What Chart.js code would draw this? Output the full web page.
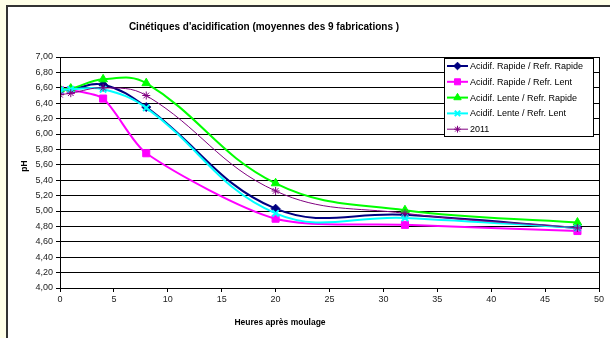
<!DOCTYPE html>
<html>
<head>
<meta charset="utf-8">
<script src="https://cdn.jsdelivr.net/npm/chart.js@4/dist/chart.umd.min.js"></script>
<style>
  html, body { margin: 0; padding: 0; background: #FFFFE8; }
  #wrap { position: relative; width: 610px; height: 338px; overflow: hidden; }
  #frame { position: absolute; left: 6px; top: 5px; width: 640px; height: 360px;
           background: #ffffff; border-left: 2px solid #333; border-top: 2px solid #333; }
  #c { position: absolute; left: 0; top: 0; }
</style>
</head>
<body>
<div id="wrap">
  <div id="frame"></div>
  <canvas id="c" width="610" height="338"></canvas>
</div>
<script>
// Hours after moulding at which pH was measured
const hours = [0, 1, 4, 8, 20, 32, 48];

// Mean pH per process (9 batches)
const rapideRapide = [6.57, 6.58, 6.64, 6.35, 5.03, 4.95, 4.78];
const rapideLent   = [6.57, 6.57, 6.46, 5.75, 4.90, 4.82, 4.74];
const lenteRapide  = [6.58, 6.59, 6.71, 6.66, 5.36, 5.01, 4.85];
const lenteLent    = [6.57, 6.58, 6.58, 6.34, 4.97, 4.91, 4.78];
const annee2011    = [6.51, 6.53, 6.60, 6.50, 5.26, 4.97, 4.78];

const seriesNames = [
  'Acidif. Rapide / Refr. Rapide',
  'Acidif. Rapide / Refr. Lent',
  'Acidif. Lente / Refr. Rapide',
  'Acidif. Lente / Refr. Lent',
  '2011'
];

const yTicks = { min: 4, max: 7, step: 0.2 };
const xTicks = { min: 0, max: 50, step: 5 };

function pts(values) {
  return hours.map((h, i) => ({ x: h, y: values[i] }));
}

const styles = [
  { color: '#000080', pointStyle: 'rectRot', radius: 4.5, width: 2, pbw: 1, tension: 0.4 },
  { color: '#FF00FF', pointStyle: 'rect', radius: 5, width: 2, pbw: 1, tension: 0.25 },
  { color: '#00FF00', pointStyle: 'triangle', radius: 5, width: 2, pbw: 1, tension: 0.4 },
  { color: '#00FFFF', pointStyle: 'crossRot', radius: 4.5, width: 2, pbw: 2, tension: 0.4 },
  { color: '#800080', pointStyle: 'star', radius: 4, width: 1, pbw: 1, tension: 0.4 }
];

const allValues = [rapideRapide, rapideLent, lenteRapide, lenteLent, annee2011];

const datasets = allValues.map((vals, i) => ({
  label: seriesNames[i],
  data: pts(vals),
  borderColor: styles[i].color,
  backgroundColor: styles[i].color,
  borderWidth: styles[i].width,
  pointStyle: styles[i].pointStyle,
  pointRadius: styles[i].radius,
  pointBorderWidth: styles[i].pbw,
  pointBackgroundColor: styles[i].color,
  pointBorderColor: styles[i].color,
  tension: styles[i].tension,
  order: allValues.length - i
}));

const FONT = '"Liberation Sans", Arial, sans-serif';

// Titles, plot frame and boxed legend with line + marker samples
const decorations = {
  id: 'decorations',
  afterDraw(chart) {
    const ctx = chart.ctx;
    const a = chart.chartArea;
    ctx.save();
    ctx.strokeStyle = '#000';
    ctx.lineWidth = 1;
    ctx.strokeRect(Math.round(a.left) + 0.5, Math.round(a.top) + 0.5,
                   Math.round(a.right - a.left), Math.round(a.bottom - a.top));

    ctx.fillStyle = '#000';
    ctx.textAlign = 'center';
    ctx.textBaseline = 'middle';
    ctx.font = 'bold 10px ' + FONT;
    ctx.fillText("Cinétiques d'acidification (moyennes des 9 fabrications )", 264, 27);

    ctx.font = 'bold 8.5px ' + FONT;
    ctx.fillText('Heures après moulage', 280, 323);

    ctx.save();
    ctx.translate(25, 166);
    ctx.rotate(-Math.PI / 2);
    ctx.fillText('pH', 0, 0);
    ctx.restore();

    // legend
    const bx = 444.5, by = 58.5, bw = 149, bh = 78;
    ctx.fillStyle = '#fff';
    ctx.fillRect(bx, by, bw, bh);
    ctx.strokeStyle = '#000';
    ctx.strokeRect(bx, by, bw, bh);
    ctx.font = '9px ' + FONT;
    ctx.textAlign = 'left';
    chart.data.datasets.forEach((ds, i) => {
      const y = 66 + i * 15.8;
      ctx.strokeStyle = ds.borderColor;
      ctx.lineWidth = ds.borderWidth;
      ctx.beginPath();
      ctx.moveTo(447, y);
      ctx.lineTo(468, y);
      ctx.stroke();
      ctx.fillStyle = ds.pointBackgroundColor;
      ctx.strokeStyle = ds.pointBorderColor;
      ctx.lineWidth = ds.pointBorderWidth;
      Chart.helpers.drawPoint(ctx, {
        pointStyle: ds.pointStyle,
        radius: ds.pointRadius * 0.85,
        rotation: 0,
        borderWidth: ds.pointBorderWidth
      }, 457.5, y);
      ctx.fillStyle = '#000';
      ctx.fillText(ds.label, 470, y + 0.5);
    });
    ctx.restore();
  }
};

new Chart(document.getElementById('c'), {
  type: 'line',
  data: { datasets },
  options: {
    responsive: false,
    animation: false,
    events: [],
    layout: { padding: { left: 0, top: 57, right: 11, bottom: 0 } },
    plugins: { legend: { display: false }, tooltip: { enabled: false }, title: { display: false } },
    scales: {
      x: {
        type: 'linear',
        min: xTicks.min, max: xTicks.max,
        afterFit(s) { s.height = 50; },
        ticks: { stepSize: xTicks.step, color: '#222', font: { family: FONT, size: 9 }, padding: 2,
                 maxRotation: 0 },
        grid: { drawOnChartArea: false, drawTicks: true, tickLength: 4, color: '#000' },
        border: { color: '#000', width: 1 }
      },
      y: {
        min: yTicks.min, max: yTicks.max,
        afterFit(s) { s.width = 60; },
        ticks: { stepSize: yTicks.step, color: '#222', font: { family: FONT, size: 9 }, padding: 3,
                 callback: v => v.toFixed(2).replace('.', ',') },
        grid: { color: '#000', lineWidth: 1, drawTicks: true, tickLength: 4 },
        border: { color: '#000', width: 1 }
      }
    }
  },
  plugins: [decorations]
});
</script>
</body>
</html>
